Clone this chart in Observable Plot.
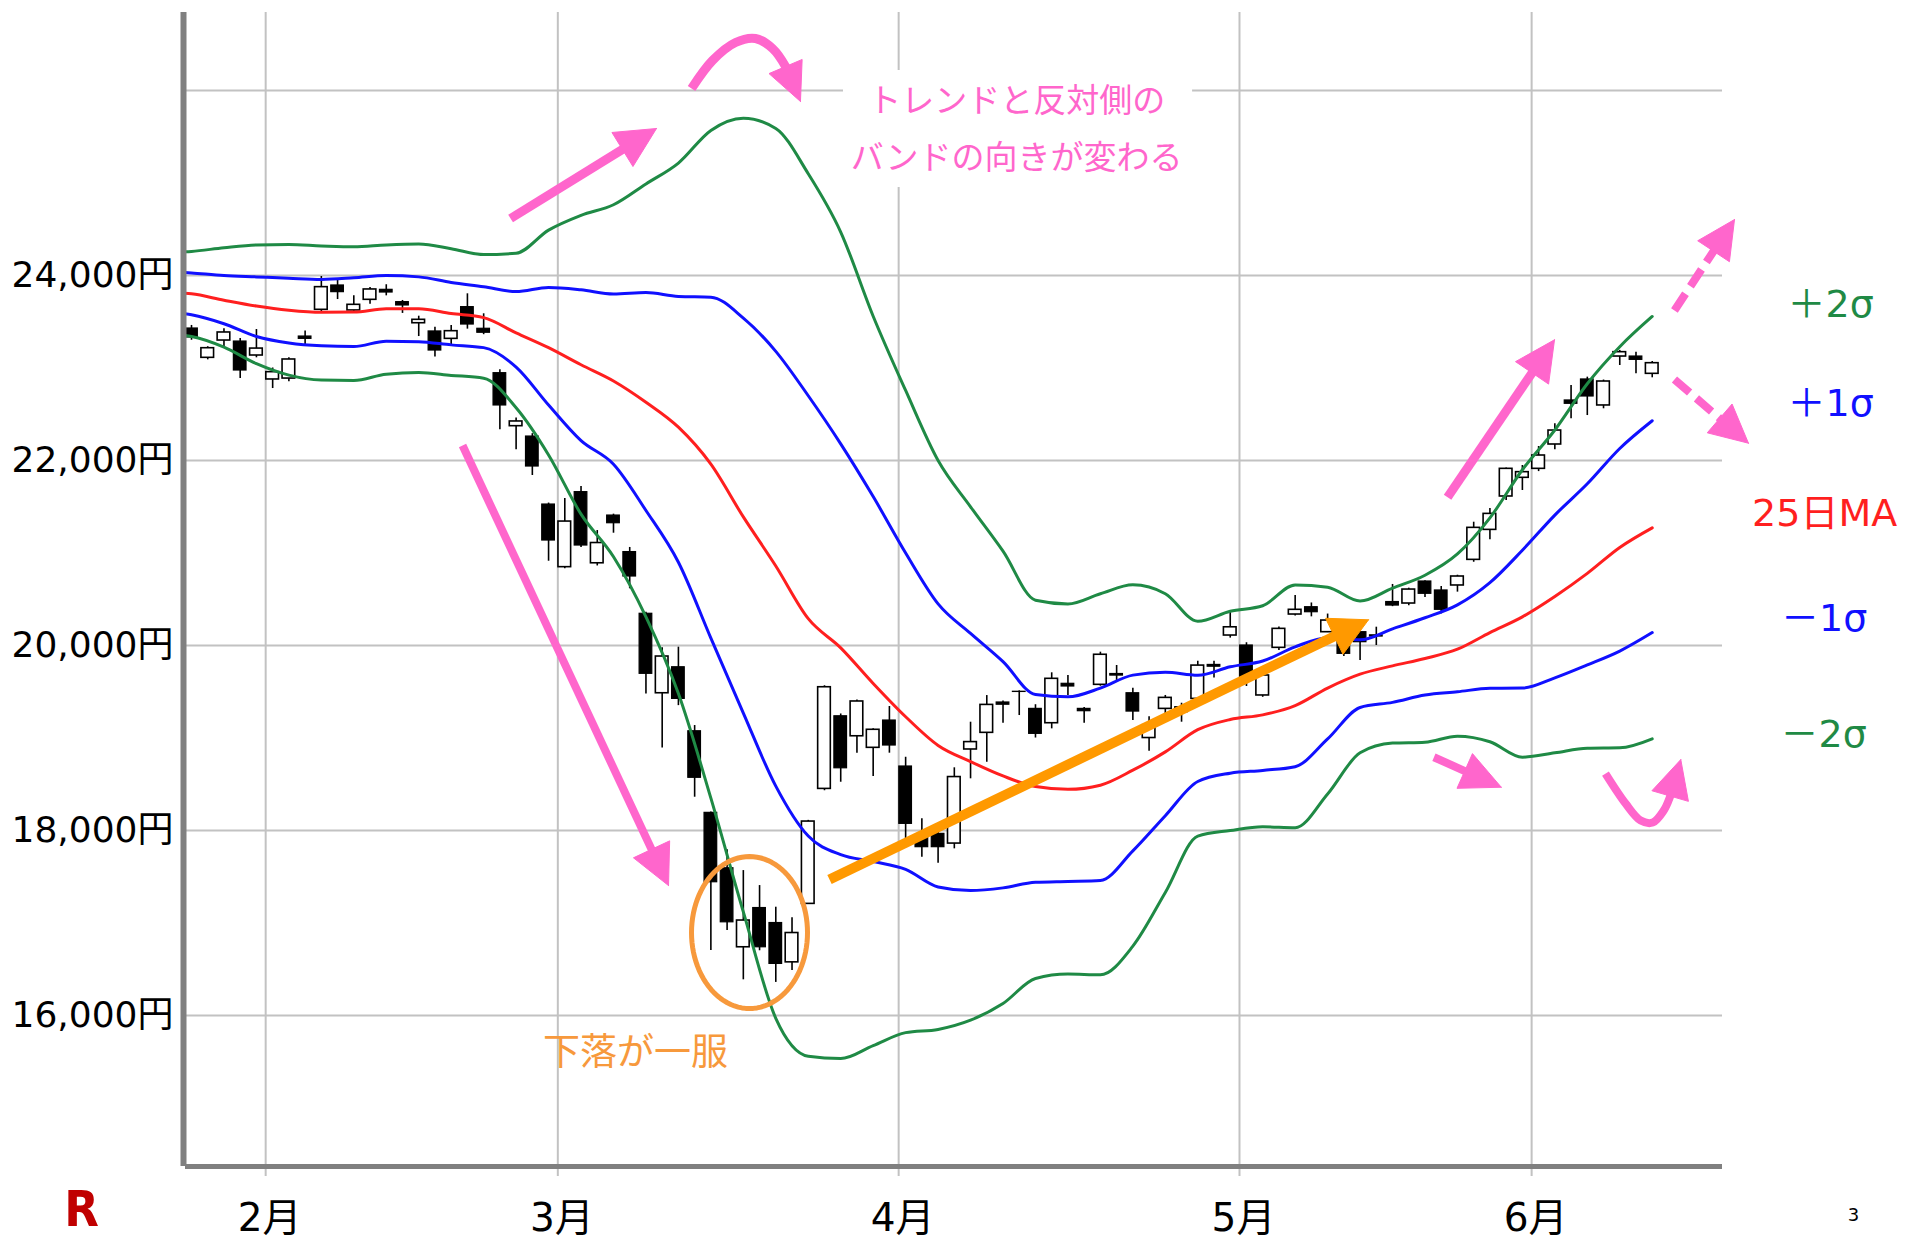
<!DOCTYPE html>
<html><head><meta charset="utf-8">
<script src="https://cdn.jsdelivr.net/npm/d3@7"></script>
<script src="https://cdn.jsdelivr.net/npm/@observablehq/plot@0.6"></script>
<style>html,body{margin:0;padding:0;background:#fff;overflow:hidden}</style>
</head><body><div id="chart"></div>
<script>
// ---- data ----
const tradingDays = [
 "01-27","01-28","01-29","01-30","01-31",
 "02-03","02-04","02-05","02-06","02-07","02-10","02-12","02-13","02-14",
 "02-17","02-18","02-19","02-20","02-21","02-25","02-26","02-27","02-28",
 "03-02","03-03","03-04","03-05","03-06","03-09","03-10","03-11","03-12","03-13",
 "03-16","03-17","03-18","03-19","03-23","03-24","03-25","03-26","03-27","03-30","03-31",
 "04-01","04-02","04-03","04-06","04-07","04-08","04-09","04-10",
 "04-13","04-14","04-15","04-16","04-17","04-20","04-21","04-22","04-23","04-24",
 "04-27","04-28","04-30",
 "05-01","05-07","05-08","05-11","05-12","05-13","05-14","05-15",
 "05-18","05-19","05-20","05-21","05-22","05-25","05-26","05-27","05-28","05-29",
 "06-01","06-02","06-03","06-04","06-05","06-08","06-09","06-10"];
const open = [23427,23110,23297,23286,23135, 22876,22886,23340,23629,23892,23622,23737,23845,23712,
 23484,23395,23315,23658,23424,22944,22371,22259,21524, 20847,21658,20889,21405,21010,20343,19484,19765,19073,18191,
 17592,16738,17162,17000,16575,17207,18450,19235,19019,18894,19189, 18692,17928,17964,17859,18876,19056,19384,19500,
 19315,19160,19586,19315,19575,19692,19484,19000,19315,19333,19423,19790,20108,
 20000,19460,19975,20335,20414,20144,20144,20144,20110,20470,20454,20692,20595,20649,20926,21250,21611,21813,
 21910,22173,22649,22876,22595,23124,23124,22937];
const high = [23460,23230,23424,23320,23416, 23000,23110,23400,23989,23950,23780,23870,23900,23730,
 23560,23440,23460,23802,23586,22980,22460,22290,21540, 21589,21719,21243,21420,21060,20360,19975,19982,19135,18200,
 17791,17567,17405,17171,17056,18110,19565,19260,19410,19100,19341, 18792,18126,17990,18678,19171,19459,19400,19510,
 19360,19705,19676,19330,19928,19784,19538,19230,19460,19376,19830,19830,20360,
 20030,19700,20200,20540,20460,20340,20200,20200,20198,20660,20620,20700,20638,20760,21333,21480,21920,21946,
 22151,22397,22811,22901,22870,23190,23171,23070];
const low = [23300,23088,23232,22886,23110, 22778,22850,23240,23610,23740,23600,23690,23780,23590,
 23340,23120,23240,23420,23360,22332,22116,21838,20911, 20830,21060,20860,21214,20613,19477,18891,19350,18360,16703,
 16919,16386,16700,16358,16486,17200,18430,18522,18836,18584,18836, 17892,17711,17646,17802,18559,18738,19160,19243,
 19000,19099,19459,19160,19560,19600,19189,18857,19225,19171,19400,19650,20080,
 19557,19440,19946,20320,20310,20140,19880,19838,20000,20420,20430,20520,20342,20577,20900,21143,21568,21676,
 21880,22116,22451,22486,22559,23027,22937,22894];
const close = [23330,23214,23384,22973,23210, 22955,23092,23315,23874,23820,23683,23849,23816,23676,
 23521,23189,23398,23470,23381,22595,22422,21935,21135, 21340,21081,21108,21322,20746,19694,19881,19423,18570,17441,
 17008,17027,16738,16558,16892,18097,19549,18673,19395,19089,18919, 18072,17820,17820,18578,18956,19358,19360,19498,
 19045,19640,19557,19290,19900,19675,19286,19138,19434,19279,19783,19771,20197,
 19657,19676,20180,20386,20360,20270,19910,20036,20097,20432,20605,20559,20386,20746,21272,21423,21910,21874,
 22054,22324,22613,22692,22854,23171,23088,23052];

// Bollinger band samples, at trading-day index (-1 = 01-24)
const bandAt = [-1,0,2,4,6,8,10,12,14,16,18,20,22,24,26,28,30,32,34,36,38,40,42,44,46,48,50,52,54,56,58,60,62,64,66,68,70,72,74,76,78,80,82,84,86,88,90];
const upper2 = [24250,24260,24300,24330,24335,24320,24310,24330,24340,24290,24226,24240,24490,24650,24765,24990,25215,25568,25700,25590,25100,24470,23560,22757,22000,21500,21020,20490,20450,20560,20656,20560,20262,20370,20430,20655,20630,20480,20620,20760,20990,21380,21900,22330,22830,23230,23557];
const upper1 = [24040,24028,24000,23985,23970,23957,23975,24000,23985,23925,23878,23826,23870,23845,23800,23815,23773,23766,23540,23180,22700,22180,21610,21000,20450,20130,19825,19470,19445,19540,19680,19710,19678,19770,19832,19985,20085,20062,20180,20300,20440,20680,21030,21410,21748,22130,22430];
const ma25 = [23815,23802,23733,23670,23625,23603,23605,23640,23640,23588,23545,23380,23220,23035,22860,22630,22360,21960,21390,20860,20290,19975,19590,19230,18920,18745,18590,18475,18445,18490,18652,18850,19090,19200,19250,19350,19540,19690,19780,19860,19960,20140,20310,20530,20780,21060,21272];
const lower1 = [23600,23575,23478,23340,23270,23240,23232,23290,23285,23250,23220,23010,22600,22215,21960,21460,20900,20080,19270,18480,17940,17740,17665,17580,17390,17351,17380,17441,17450,17460,17780,18160,18530,18620,18650,18690,18990,19330,19385,19465,19500,19537,19540,19650,19790,19940,20140];
const lower2 = [23360,23340,23225,23047,22923,22870,22865,22933,22950,22920,22890,22570,22060,21420,20960,20310,19480,18350,17120,15970,15560,15535,15675,15815,15850,15950,16130,16400,16448,16440,16750,17330,17940,18000,18040,18030,18395,18840,18945,18955,19020,18960,18793,18840,18890,18894,18991];

const yTickValues = [16000,18000,20000,22000,24000];
const yGridValues = [16000,18000,20000,22000,24000,26000];
const monthFirstDays = ["02-03","03-02","04-01","05-01","06-01"];
const monthLabels = ["2月","3月","4月","5月","6月"];
const bandLabels = ["＋2σ","＋1σ","25日MA","－1σ","－2σ"];

// ---- layout ----
const W = 1905, H = 1239, ML = 185, MR = 183, MT = 12, MB = 73;
const X_DOMAIN = [-0.37, 94.33], Y_DOMAIN = [14368, 26843];
const GRID_OFFSET = -0.43;
const FONT = "'DejaVu Sans','Noto Sans CJK JP',sans-serif";
const JP = "'Noto Sans CJK JP','DejaVu Sans',sans-serif";
const GREEN = "#1f8a45", BLUE = "#1010ff", RED = "#ff1f1f", PINK = "#ff66cc", ORANGE = "#ff9900", ORANGE2 = "#f7993c";

const sx = Plot.scale({x: {domain: X_DOMAIN, range: [ML, W - MR]}});
const sy = Plot.scale({y: {domain: Y_DOMAIN, range: [H - MB, MT]}});
const toData = p => ({x: sx.invert(p[0]), y: sy.invert(p[1])});

function arrow(pts, {color, width = 9, dash, head = 40, headW = 40, curve = "linear"}) {
  const P = pts.map(([i, v]) => [sx.apply(i), sy.apply(v)]);
  const tip = P[P.length - 1], prev = P[P.length - 2];
  let dx = tip[0] - prev[0], dy = tip[1] - prev[1];
  const len = Math.hypot(dx, dy); dx /= len; dy /= len;
  const base = [tip[0] - head * dx, tip[1] - head * dy];
  const nx = -dy, ny = dx;
  const tri = [tip, [base[0] + nx * headW / 2, base[1] + ny * headW / 2], [base[0] - nx * headW / 2, base[1] - ny * headW / 2], tip];
  const shaft = [...P.slice(0, -1), [base[0] + 2 * dx, base[1] + 2 * dy]];
  return [
    Plot.line(shaft.map(toData), {x: "x", y: "y", stroke: color, strokeWidth: width, strokeDasharray: dash, curve, strokeLinecap: "butt"}),
    Plot.line(tri.map(toData), {x: "x", y: "y", fill: color, stroke: color, strokeWidth: 1})
  ];
}

// annotation geometry in data units (trading-day index, yen)
const aUp = [[19.66, 24616], [28.65, 25589]];
const aCurveTop = [[30.81, 26022], [32.10, 26324], [33.52, 26519], [34.75, 26562], [35.80, 26454], [36.60, 26260], [37.52, 25881]];
const aDown = [[16.70, 22162], [29.39, 17405]];
const aOrange = [[39.31, 17470], [72.52, 20278]];
const aJune = [[77.39, 21603], [83.98, 23305]];
const aDashUp = [[91.37, 23622], [95.07, 24605]];
const aDashDown = [[91.37, 22876], [95.93, 22187]];
const aSmall = [[76.55, 18792], [80.70, 18468]];
const aUturn = [[87.12, 18616], [88.36, 18292], [89.29, 18108], [90.03, 18086], [90.71, 18216], [91.08, 18357], [91.76, 18767]];
const textBox = {x1: 40.17, x2: 61.68, y1: 24951, y2: 26216};
const ellipseC = [34.38, 16897], ellipseR = [58, 76];

const candles = tradingDays.map((d, k) => ({k, d, o: open[k], h: high[k], l: low[k], c: close[k]}));
const monthIdx = monthFirstDays.map(d => tradingDays.indexOf(d));
const band = arr => bandAt.map((x, k) => ({x, y: arr[k]}));

const ec = [sx.apply(ellipseC[0]), sy.apply(ellipseC[1])];
const ellipsePts = d3.range(0, 97).map(t => toData([ec[0] + ellipseR[0] * Math.cos(t / 96 * 2 * Math.PI), ec[1] + ellipseR[1] * Math.sin(t / 96 * 2 * Math.PI)]));

const labelPos = [[100.99, 23686, GREEN], [100.99, 22616, BLUE], [100.62, 21427, RED], [100.59, 20292, BLUE], [100.56, 19038, GREEN]];

const plot = Plot.plot({
  width: W, height: H, marginLeft: ML, marginRight: MR, marginTop: MT, marginBottom: MB,
  x: {domain: X_DOMAIN, axis: null},
  y: {domain: Y_DOMAIN, axis: null},
  style: {fontFamily: FONT, background: "white", color: "black"},
  marks: [
    Plot.ruleY(yGridValues, {stroke: "#c2c2c2", strokeWidth: 2}),
    Plot.ruleX(monthIdx, {x: d => d + GRID_OFFSET, y1: () => Y_DOMAIN[1], y2: () => 14259, stroke: "#c2c2c2", strokeWidth: 2}),
    Plot.rect([textBox], {x1: "x1", x2: "x2", y1: "y1", y2: "y2", fill: "white"}),
    Plot.ruleX(candles, {x: "k", y1: "l", y2: "h", stroke: "black", strokeWidth: 1.6}),
    Plot.rect(candles.filter(d => d.c >= d.o), {x1: d => d.k - 0.39, x2: d => d.k + 0.39, y1: "o", y2: "c", fill: "white", stroke: "black", strokeWidth: 1.6}),
    Plot.rect(candles.filter(d => d.c < d.o), {x1: d => d.k - 0.39, x2: d => d.k + 0.39, y1: "o", y2: "c", fill: "black", stroke: "black", strokeWidth: 1.2}),
    Plot.line(band(upper2), {x: "x", y: "y", stroke: GREEN, strokeWidth: 3, curve: "monotone-x", clip: true}),
    Plot.line(band(lower2), {x: "x", y: "y", stroke: GREEN, strokeWidth: 3, curve: "monotone-x", clip: true}),
    Plot.line(band(upper1), {x: "x", y: "y", stroke: BLUE, strokeWidth: 3, curve: "monotone-x", clip: true}),
    Plot.line(band(lower1), {x: "x", y: "y", stroke: BLUE, strokeWidth: 3, curve: "monotone-x", clip: true}),
    Plot.line(band(ma25), {x: "x", y: "y", stroke: RED, strokeWidth: 3, curve: "monotone-x", clip: true}),
    Plot.ruleY([Y_DOMAIN[0]], {stroke: "#808080", strokeWidth: 5}),
    Plot.ruleX([X_DOMAIN[0]], {stroke: "#808080", strokeWidth: 6, dx: -2}),
    Plot.text(yTickValues, {x: () => X_DOMAIN[0], y: d => d, text: d => d3.format(",")(d) + "円", textAnchor: "end", dx: -12, fontSize: 36, fill: "black"}),
    Plot.text(monthIdx, {x: d => d + GRID_OFFSET, y: () => Y_DOMAIN[0], text: (d, k) => monthLabels[k], dy: 52, dx: 4, fontSize: 39, fill: "black"}),
    ...arrow(aUp, {color: PINK}),
    ...arrow(aCurveTop, {color: PINK, curve: "catmull-rom", head: 38, headW: 36}),
    ...arrow(aDown, {color: PINK, width: 8}),
    ...arrow(aOrange, {color: ORANGE, width: 10, head: 38, headW: 40}),
    ...arrow(aJune, {color: PINK}),
    ...arrow(aDashUp, {color: PINK, width: 8, dash: "20,9", head: 38, headW: 38}),
    ...arrow(aDashDown, {color: PINK, width: 8, dash: "20,9", head: 38, headW: 38}),
    ...arrow(aSmall, {color: PINK, width: 8, head: 40, headW: 38}),
    ...arrow(aUturn, {color: PINK, width: 8, curve: "catmull-rom", head: 38, headW: 38}),
    Plot.line(ellipsePts, {x: "x", y: "y", stroke: ORANGE2, strokeWidth: 5}),
    Plot.text(["トレンドと反対側の"], {x: () => 50.84, y: () => 25883, text: d => d, fontSize: 33, fill: PINK, fontFamily: JP}),
    Plot.text(["バンドの向きが変わる"], {x: () => 50.84, y: () => 25270, text: d => d, fontSize: 33, fill: PINK, fontFamily: JP}),
    Plot.text(["下落が一服"], {x: () => 27.36, y: () => 15589, text: d => d, fontSize: 37, fill: ORANGE2, fontFamily: JP}),
    ...bandLabels.map((t, k) => Plot.text([t], {x: () => labelPos[k][0], y: () => labelPos[k][1], text: d => d, fontSize: 38, fill: labelPos[k][2]})),
    Plot.text(["3"], {x: () => 102.4, y: () => 13837, text: d => d, fontSize: 18, fill: "black"}),
    Plot.text(["R"], {x: () => -6.78, y: () => 13900, text: d => d, fontSize: 50, fontWeight: "bold", fill: "#c00000", fontFamily: "'DejaVu Sans Condensed','DejaVu Sans',sans-serif"})
  ]
});
document.getElementById("chart").appendChild(plot);
</script>
</body></html>
